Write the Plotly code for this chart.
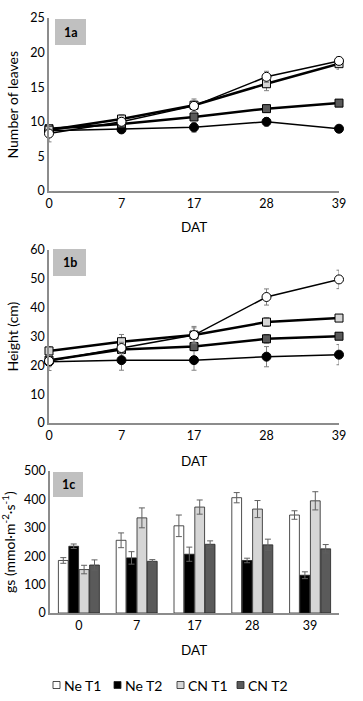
import plotly.graph_objects as go

W, H = 363, 701

categories = ["0", "7", "17", "28", "39"]
series_names = ["Ne T1", "Ne T2", "CN T1", "CN T2"]

# Panel 1a: number of leaves
leaves_ne_t1 = [8.3, 10.0, 12.3, 16.5, 18.8]
leaves_ne_t2 = [8.7, 8.9, 9.2, 10.0, 9.0]
leaves_cn_t1 = [8.8, 10.4, 12.4, 15.5, 18.4]
leaves_cn_t2 = [9.0, 9.7, 10.7, 11.9, 12.7]
leaves_err_ne_t1 = [1.2, 0.6, 0.8, 0.8, 0.6]
leaves_err_ne_t2 = [0.5, 0.5, 0.7, 0.6, 0.3]
leaves_err_cn_t1 = [0.6, 0.6, 0.9, 1.0, 0.8]
leaves_err_cn_t2 = [0.5, 0.5, 0.5, 0.5, 0.5]

# Panel 1b: height (cm)
height_ne_t1 = [21.5, 26.0, 30.5, 43.7, 49.8]
height_ne_t2 = [21.2, 21.8, 21.8, 23.0, 23.7]
height_cn_t1 = [25.0, 28.2, 30.5, 35.0, 36.4]
height_cn_t2 = [21.8, 25.5, 26.5, 29.2, 30.1]
height_err_ne_t1 = [2.0, 2.0, 2.5, 2.8, 3.2]
height_err_ne_t2 = [3.0, 3.5, 3.5, 3.5, 3.5]
height_err_cn_t1 = [1.5, 2.5, 3.0, 1.5, 1.0]
height_err_cn_t2 = [1.0, 1.0, 1.5, 1.5, 1.0]

# Panel 1c: gs (mmol m-2 s-1)
gs_ne_t1 = [185, 256, 307, 406, 345]
gs_ne_t2 = [235, 194, 207, 185, 133]
gs_cn_t1 = [153, 335, 373, 366, 395]
gs_cn_t2 = [169, 182, 242, 240, 226]
gs_err_ne_t1 = [10, 26, 38, 18, 15]
gs_err_ne_t2 = [8, 22, 25, 8, 12]
gs_err_cn_t1 = [15, 35, 25, 30, 32]
gs_err_cn_t2 = [18, 6, 12, 20, 15]

FONT = "Lato"
fills = ["#ffffff", "#000000", "#d6d6d6", "#5a5a5a"]


def px_y(p):
    return 1 - p / H


def px_x(p):
    return p / W


fig = go.Figure()

xpos = list(range(len(categories)))

line_specs = [
    ("Ne T1", "circle", fills[0], 1.5, 9),
    ("Ne T2", "circle", fills[1], 1.5, 9),
    ("CN T1", "square", fills[2], 2.5, 8),
    ("CN T2", "square", fills[3], 2.5, 8),
]

panel_a = [leaves_ne_t1, leaves_ne_t2, leaves_cn_t1, leaves_cn_t2]
panel_a_err = [leaves_err_ne_t1, leaves_err_ne_t2, leaves_err_cn_t1, leaves_err_cn_t2]
panel_b = [height_ne_t1, height_ne_t2, height_cn_t1, height_cn_t2]
panel_b_err = [height_err_ne_t1, height_err_ne_t2, height_err_cn_t1, height_err_cn_t2]

order = [1, 3, 2, 0]
for vals_all, errs_all, xa, ya in [(panel_a, panel_a_err, "x", "y"), (panel_b, panel_b_err, "x2", "y2")]:
    for i in order:
        name, sym, col, lw, ms = line_specs[i]
        fig.add_trace(go.Scatter(
            x=xpos, y=vals_all[i], mode="lines+markers", name=name, showlegend=False,
            xaxis=xa, yaxis=ya, cliponaxis=False,
            line=dict(color="#000000", width=lw),
            marker=dict(symbol=sym, size=ms, color=col, line=dict(color="#000000", width=1)),
            error_y=dict(type="data", array=errs_all[i], color="#808080", thickness=1, width=2.5),
        ))

panel_c = [gs_ne_t1, gs_ne_t2, gs_cn_t1, gs_cn_t2]
panel_c_err = [gs_err_ne_t1, gs_err_ne_t2, gs_err_cn_t1, gs_err_cn_t2]
for i, name in enumerate(series_names):
    fig.add_trace(go.Bar(
        x=categories, y=panel_c[i], name=name, xaxis="x3", yaxis="y3", showlegend=False,
        marker=dict(color=fills[i], line=dict(color="#222222", width=0.8)),
        error_y=dict(type="data", array=panel_c_err[i], color="#606060", thickness=1, width=3),
    ))

axis_common = dict(showgrid=False, zeroline=False, tickfont=dict(family=FONT, size=12.5, color="#000"),
                   linecolor="#8c8c8c", linewidth=1.5, showline=True, ticks="", automargin=False)

fig.update_layout(
    width=W, height=H,
    margin=dict(l=0, r=0, t=0, b=0, autoexpand=False),
    paper_bgcolor="white", plot_bgcolor="white",
    font=dict(family=FONT, color="#000"),
    barmode="group", bargap=0.28, bargroupgap=0.06,
    showlegend=False,
    xaxis=dict(domain=[px_x(49), px_x(339)], anchor="y", range=[0, 4],
               tickvals=xpos, ticktext=categories, **axis_common),
    yaxis=dict(domain=[px_y(191), px_y(18)], anchor="x", range=[0, 25], dtick=5, **axis_common),
    xaxis2=dict(domain=[px_x(49), px_x(339)], anchor="y2", range=[0, 4],
                tickvals=xpos, ticktext=categories, **axis_common),
    yaxis2=dict(domain=[px_y(423), px_y(250)], anchor="x2", range=[0, 60], dtick=10, **axis_common),
    xaxis3=dict(domain=[px_x(50), px_x(339)], anchor="y3", type="category", **axis_common),
    yaxis3=dict(domain=[px_y(613), px_y(471)], anchor="x3", range=[0, 500], dtick=100, **axis_common),
)

annotations = []
shapes = []
# x-axis titles
for ypix in [227, 461, 650]:
    annotations.append(dict(text="DAT", x=px_x(194), y=px_y(ypix), xref="paper", yref="paper",
                            xanchor="center", yanchor="middle",
                            showarrow=False, font=dict(family=FONT, size=13.5, color="#000")))
# y-axis titles
for txt, xpix, ypix in [("Number of leaves", 12, 104.5), ("Height (cm)", 12, 336.5),
                        ("gs (mmol·m<sup>-2</sup>·s<sup>-1</sup>)", 8, 542)]:
    annotations.append(dict(text=txt, x=px_x(xpix), y=px_y(ypix), xref="paper", yref="paper",
                            xanchor="center", yanchor="middle",
                            showarrow=False, textangle=-90, font=dict(family=FONT, size=14, color="#000")))
# panel label boxes
for lab, x0, x1, y0, y1 in [("1a", 55, 86, 19, 45), ("1b", 53, 86, 249, 276), ("1c", 53, 83, 472, 497)]:
    shapes.append(dict(type="rect", xref="paper", yref="paper", x0=px_x(x0), x1=px_x(x1),
                       y0=px_y(y1), y1=px_y(y0), fillcolor="#c0c0c0", line=dict(width=0), layer="below"))
    annotations.append(dict(text="<b>%s</b>" % lab, x=px_x((x0 + x1) / 2), y=px_y((y0 + y1) / 2),
                            xref="paper", yref="paper", xanchor="center", yanchor="middle",
                            showarrow=False, font=dict(family=FONT, size=12.5, color="#000")))

# manual legend (key boxes + labels)
legend_x = [53, 114, 177, 237]
legend_y = 685
for i, name in enumerate(series_names):
    bx = legend_x[i]
    shapes.append(dict(type="rect", xref="paper", yref="paper", x0=px_x(bx), x1=px_x(bx + 7),
                       y0=px_y(legend_y + 3.5), y1=px_y(legend_y - 3.5), fillcolor=fills[i],
                       line=dict(color="#222222", width=0.8)))
    annotations.append(dict(text=name, x=px_x(bx + 9), y=px_y(legend_y), xref="paper", yref="paper",
                            xanchor="left", yanchor="middle",
                            showarrow=False, font=dict(family=FONT, size=14, color="#000")))

fig.update_layout(annotations=annotations, shapes=shapes)

fig.write_html("out.html", config={"displayModeBar": False},
               post_script="document.body.style.margin='0px';")
